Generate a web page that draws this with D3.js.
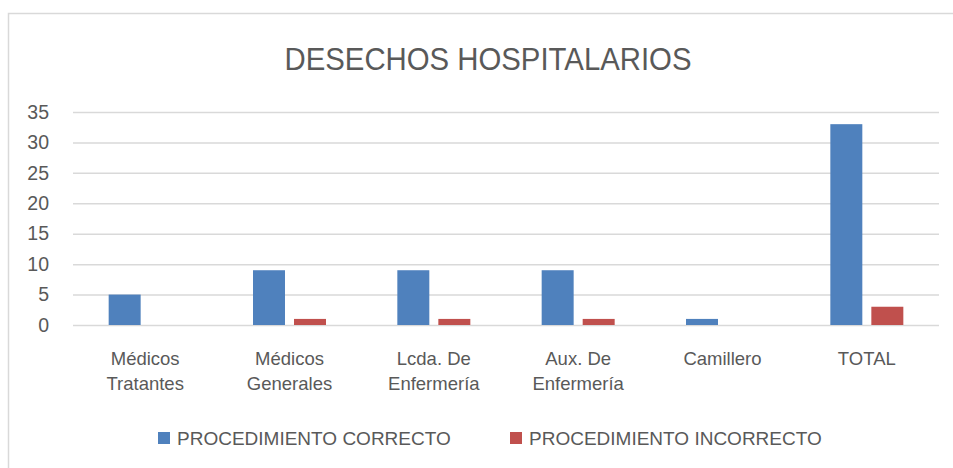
<!DOCTYPE html>
<html>
<head>
<meta charset="utf-8">
<script src="https://cdn.jsdelivr.net/npm/d3@7"></script>
<style>
  body { margin: 0; background: #fff; }
  text { font-family: "Liberation Sans", Arial, sans-serif; fill: #595959; }
</style>
</head>
<body>
<script>
// Chart data
const categories = [
  ["Médicos", "Tratantes"],
  ["Médicos", "Generales"],
  ["Lcda. De", "Enfermería"],
  ["Aux. De", "Enfermería"],
  ["Camillero"],
  ["TOTAL"]
];
const seriesNames = ["PROCEDIMIENTO CORRECTO", "PROCEDIMIENTO INCORRECTO"];
const correcto = [5, 9, 9, 9, 1, 33];
const incorrecto = [0, 1, 1, 1, 0, 3];
const yTicks = [0, 5, 10, 15, 20, 25, 30, 35];
const colors = ["#4f81bd", "#c0504d"];

const W = 953, H = 468;
const plot = {left: 73, right: 939, top: 112, bottom: 325};

const svg = d3.select("body").append("svg")
  .attr("width", W)
  .attr("height", H);

// Outer chart border (runs off the picture on the right and bottom)
svg.append("rect")
  .attr("x", 8.5).attr("y", 13.5)
  .attr("width", W + 20).attr("height", H + 20)
  .attr("fill", "#fff")
  .attr("stroke", "#d9d9d9")
  .attr("stroke-width", 1.5);

// Title
svg.append("text")
  .attr("x", 488).attr("y", 70)
  .attr("text-anchor", "middle")
  .attr("font-size", 32)
  .attr("textLength", 407)
  .attr("lengthAdjust", "spacingAndGlyphs")
  .text("DESECHOS HOSPITALARIOS");

const idx = d3.range(categories.length);
const x0 = d3.scaleBand().domain(idx).range([plot.left, plot.right]);
const x1 = d3.scaleBand().domain([0, 1]).range([0, 73]).paddingInner(0.22);
const groupOffset = (x0.bandwidth() - 73) / 2;
const y = d3.scaleLinear().domain([0, 35]).range([plot.bottom, plot.top]);

// Gridlines + y labels via axis
const yAxis = d3.axisLeft(y)
  .tickValues(yTicks)
  .tickSize(-(plot.right - plot.left))
  .tickPadding(24);

const gy = svg.append("g")
  .attr("transform", `translate(${plot.left},0)`)
  .call(yAxis);
gy.select(".domain").remove();
gy.selectAll(".tick line").attr("stroke", "#d9d9d9").attr("stroke-width", 1.5);
gy.selectAll(".tick text")
  .attr("font-size", 19.5)
  .attr("font-family", "Liberation Sans, Arial, sans-serif")
  .attr("fill", "#595959");

// Bars
const series = [correcto, incorrecto];
series.forEach((vals, s) => {
  svg.append("g").selectAll("rect")
    .data(vals)
    .join("rect")
    .attr("x", (d, i) => x0(i) + groupOffset + x1(s))
    .attr("width", x1.bandwidth())
    .attr("y", d => y(d))
    .attr("height", d => y(0) - y(d))
    .attr("fill", colors[s]);
});

// Category labels
const gx = svg.append("g");
categories.forEach((lines, i) => {
  const t = gx.append("text")
    .attr("x", x0(i) + x0.bandwidth() / 2)
    .attr("y", 365)
    .attr("text-anchor", "middle")
    .attr("font-size", 18.5);
  lines.forEach((ln, k) => {
    t.append("tspan")
      .attr("x", x0(i) + x0.bandwidth() / 2)
      .attr("dy", k === 0 ? 0 : 25)
      .text(ln);
  });
});

// Legend
const legendX = [158, 510];
const legend = svg.append("g");
seriesNames.forEach((name, s) => {
  legend.append("rect")
    .attr("x", legendX[s]).attr("y", 432)
    .attr("width", 12).attr("height", 12)
    .attr("fill", colors[s]);
  legend.append("text")
    .attr("x", legendX[s] + 19).attr("y", 445)
    .attr("font-size", 19)
    .text(name);
});
</script>
</body>
</html>
